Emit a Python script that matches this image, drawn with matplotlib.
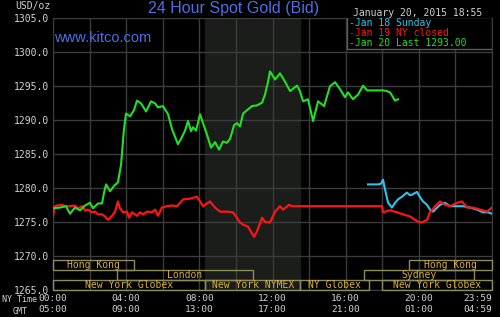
import matplotlib
matplotlib.use("Agg")
import matplotlib.pyplot as plt
from matplotlib.patches import Rectangle

# --- data (hours NY time, USD/oz) ---
jan20_t = [0.00, 0.38, 0.71, 0.93, 1.20, 1.48, 1.75, 2.02, 2.19, 2.46, 2.68, 2.79, 2.90, 3.12, 3.34,
           3.55, 3.72, 3.88, 3.99, 4.21, 4.43, 4.59, 4.81, 5.09, 5.36, 5.58, 5.74, 6.01, 6.29, 6.51,
           6.83, 7.00, 7.22, 7.38, 7.55, 7.65, 7.82, 8.04, 8.20, 8.42, 8.64, 8.86, 9.08, 9.29, 9.51,
           9.68, 9.90, 10.06, 10.22, 10.39, 10.61, 10.88, 11.15, 11.43, 11.59, 11.76, 11.86, 12.14,
           12.41, 12.68, 12.96, 13.34, 13.50, 13.67, 13.94, 14.22, 14.49, 14.82, 15.14, 15.42, 15.69,
           15.96, 16.13, 16.40, 16.68, 16.95, 17.17, 18.04, 18.26, 18.43, 18.70, 18.86]
jan20_p = [1277.0, 1277.1, 1277.3, 1276.2, 1277.1, 1276.7, 1277.4, 1277.8, 1277.0, 1277.7, 1277.7,
           1279.3, 1280.5, 1279.5, 1280.3, 1280.8, 1283.4, 1288.6, 1290.9, 1290.5, 1291.4, 1292.8,
           1292.4, 1291.2, 1292.7, 1292.4, 1291.8, 1292.0, 1290.8, 1288.6, 1286.4, 1287.2, 1288.4,
           1289.8, 1288.3, 1288.9, 1288.4, 1290.8, 1289.5, 1287.8, 1285.9, 1286.7, 1285.6, 1286.8,
           1286.6, 1287.2, 1289.2, 1289.5, 1289.0, 1290.9, 1291.4, 1292.0, 1292.1, 1292.5, 1293.7,
           1295.6, 1297.1, 1295.9, 1296.8, 1295.6, 1294.2, 1295.0, 1294.2, 1292.7, 1293.0, 1289.8,
           1292.7, 1292.0, 1294.9, 1295.5, 1294.5, 1293.3, 1294.0, 1293.0, 1293.7, 1295.0, 1294.3,
           1294.3, 1294.2, 1294.0, 1292.8, 1293.0]

jan19_t = [0.00, 0.11, 0.22, 0.49, 0.66, 0.93, 1.20, 1.37, 1.59, 1.75, 1.91, 2.13, 2.30, 2.46, 2.68,
           2.84, 3.01, 3.23, 3.39, 3.55, 3.66, 3.83, 4.05, 4.16, 4.32, 4.59, 4.76, 4.92, 5.14, 5.41,
           5.58, 5.74, 5.96, 6.23, 6.51, 6.78, 7.11, 7.49, 7.87, 8.04, 8.20, 8.58, 8.86, 9.13, 9.51,
           9.84, 10.06, 10.22, 10.39, 10.66, 10.99, 11.15, 11.43, 11.59, 11.86, 12.14, 12.41, 12.58,
           12.90, 13.07, 17.99, 18.04, 18.43, 18.81, 19.14, 19.52, 19.79, 20.07, 20.23, 20.45, 20.61,
           20.89, 21.16, 21.43, 21.71, 22.09, 22.36, 22.64, 22.96, 23.35, 23.73, 24.00]
jan19_p = [1275.9, 1277.3, 1277.4, 1277.5, 1277.3, 1277.3, 1277.4, 1277.0, 1277.3, 1276.7, 1276.8,
           1276.4, 1276.5, 1276.1, 1276.1, 1275.8, 1275.3, 1275.9, 1276.5, 1278.0, 1277.0, 1276.4,
           1276.5, 1275.6, 1276.4, 1275.9, 1276.4, 1276.1, 1276.5, 1276.4, 1276.8, 1275.9, 1277.1,
           1277.3, 1277.4, 1277.3, 1278.3, 1278.4, 1278.7, 1278.0, 1277.3, 1278.0, 1277.1, 1276.5,
           1276.5, 1276.4, 1275.6, 1274.9, 1274.6, 1274.3, 1272.8, 1273.6, 1275.6, 1275.0, 1274.9,
           1276.5, 1277.3, 1276.8, 1277.5, 1277.3, 1277.3, 1276.4, 1276.7, 1276.4, 1276.1, 1275.8,
           1275.3, 1274.9, 1275.0, 1275.3, 1276.4, 1277.3, 1278.0, 1277.5, 1277.3, 1277.8, 1278.0,
           1277.1, 1277.1, 1276.8, 1276.5, 1277.1]

jan18_t = [17.22, 17.77, 17.93, 18.04, 18.15, 18.32, 18.53, 18.70, 18.86, 19.08, 19.35, 19.52, 19.63,
           19.90, 20.07, 20.23, 20.45, 20.61, 20.78, 21.00, 21.16, 21.43, 21.71, 22.09, 22.42, 22.80,
           23.18, 23.51, 23.78, 24.00]
jan18_p = [1280.5, 1280.5, 1280.6, 1281.2, 1279.8, 1277.8, 1277.1, 1277.8, 1278.3, 1278.7, 1279.3,
           1278.9, 1279.0, 1279.4, 1278.6, 1278.0, 1277.5, 1276.8, 1276.5, 1277.1, 1277.5, 1277.8,
           1277.3, 1277.3, 1277.3, 1277.1, 1276.8, 1276.4, 1276.4, 1276.2]

legend_labels = ["Jan 18 Sunday", "Jan 19 NY closed", "Jan 20 Last 1293.00"]

tick_hours = [0, 4, 8, 12, 16, 20, 23.983]
ny_labels = ["00:00", "04:00", "08:00", "12:00", "16:00", "20:00", "23:59"]
gmt_labels = ["05:00", "09:00", "13:00", "17:00", "21:00", "01:00", "04:59"]
grid_hours = list(range(0, 25, 2))

# trading sessions: name, start hour, end hour, row (0 = top)
session_names = ["Hong Kong", "London", "New York Globex", "New York NYMEX", "NY Globex",
                 "Sydney", "New York Globex", "Hong Kong"]
session_start = [0, 3.5, 0, 8.33, 13.5, 17.0, 18.0, 19.47]
session_end = [4.43, 10.93, 8.33, 13.5, 17.25, 23.0, 24.0, 24.0]
session_row = [0, 1, 2, 2, 2, 1, 2, 0]

nymex_open, nymex_close = 8.33, 13.5

mono = "DejaVu Sans Mono"
grey_txt = "#d2d2d2"
gold = "#dcb232"
gridc = "#3c3c3c"

fig = plt.figure(figsize=(5, 3.17), dpi=100, facecolor="black")
W, H = 500.0, 317.0
ax = fig.add_axes([53 / W, 1 - 290 / H, 439 / W, 272.5 / H])
ax.set_facecolor("black")
ax.set_xlim(0, 24)
ax.set_ylim(1265, 1305)

ax.axvspan(nymex_open, nymex_close, color="#1b1d1b", zorder=0)

ax.set_yticks(range(1265, 1306, 5))
ax.set_yticklabels(["%.1f" % v for v in range(1265, 1306, 5)], family=mono, fontsize=7, color=grey_txt)
ax.set_xticks(tick_hours)
xl = ax.set_xticklabels([a + "\n" + b for a, b in zip(ny_labels, gmt_labels)],
                        family=mono, fontsize=6.8, color=grey_txt, linespacing=1.25)
xl[-1].set_horizontalalignment("right")
xl[-1].set_x(24.0)
ax.tick_params(length=0, pad=3)
ax.grid(True, axis="y", color=gridc, lw=1.0, zorder=1)
for g in grid_hours:
    ax.axvline(g, color=gridc, lw=1.0, zorder=1)
for s in ax.spines.values():
    s.set_color(gridc)

ax.plot(jan18_t, jan18_p, color="#2ec4ec", lw=1.5, zorder=3)
ax.plot(jan19_t, jan19_p, color="#ff1414", lw=1.6, zorder=4)
ax.plot(jan20_t, jan20_p, color="#22e022", lw=1.5, zorder=5)

# session boxes
row_h = 1.45
for name, a, b, r in zip(session_names, session_start, session_end, session_row):
    y0 = 1269.45 - (r + 1) * row_h - r * 0.03
    ax.add_patch(Rectangle((a, y0), b - a, row_h, fill=False, ec="#8e8c5c", lw=1.0, zorder=6, clip_on=False))
    ax.text((a + b) / 2, y0 + row_h / 2, name, family=mono, fontsize=7, color=gold,
            ha="center", va="center", zorder=7)

# legend box
ax.add_patch(Rectangle((16.05, 1300.35), 24 - 16.05, 4.65, facecolor="black", ec="#5a5a5a",
                       lw=1.0, zorder=8))
leg_colors = ["#2ec4ec", "#ff1414", "#22e022"]
for i, (lab, c) in enumerate(zip(legend_labels, leg_colors)):
    fig.text(349 / W, 1 - (23.5 + 9.6 * i) / H, "-" + lab, family=mono, fontsize=7,
             color=c, va="center", ha="left", zorder=9)

fig.text(234 / W, 1 - 9 / H, "24 Hour Spot Gold (Bid)", family="Liberation Sans",
         fontsize=11.5, color="#4d6fe6", ha="center", va="center")
fig.text(54 / W, 1 - 38 / H, "www.kitco.com", family="Liberation Sans", fontsize=10.5,
         color="#4d6fe6", ha="left", va="center")
fig.text(482 / W, 1 - 12.5 / H, "January 20, 2015 18:55", family=mono, fontsize=7,
         color=grey_txt, ha="right", va="center")
fig.text(50 / W, 1 - 6 / H, "USD/oz", family=mono, fontsize=7, color=grey_txt, ha="right", va="center")
fig.text(37 / W, 1 - 300 / H, "NY Time", family=mono, fontsize=6, color=grey_txt, ha="right", va="center")
fig.text(28 / W, 1 - 311.5 / H, "GMT", family=mono, fontsize=6, color=grey_txt, ha="right", va="center")

fig.savefig("out.png", dpi=100, facecolor="black")
